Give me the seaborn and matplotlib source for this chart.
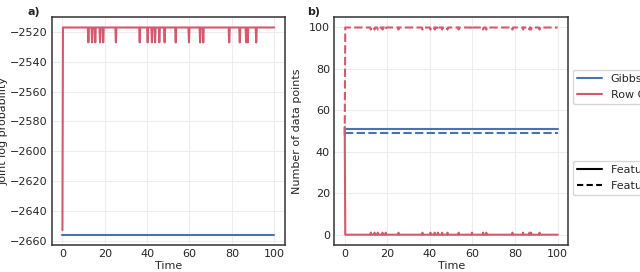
import numpy as np
import pandas as pd
import matplotlib
matplotlib.use("Agg")
import matplotlib.pyplot as plt
from matplotlib.lines import Line2D
import seaborn as sns

# =============================================================================
# DATA
# =============================================================================
time_grid = np.round(np.arange(0, 100.25, 0.25), 2)

# times where Row Gibbs briefly moves one point back
dip_times = [12.25, 14.0, 15.5, 17.75, 19.25, 25.25, 36.5, 40.25, 42.25, 43.75,
             45.75, 48.25, 53.5, 59.75, 65.0, 66.5, 78.75, 83.75, 86.75, 87.5, 91.5]

# panel a) joint log probability
gibbs_logp = -2656
row_logp_start = -2653
row_logp_level = -2517
row_logp_dip = -2527

# panel b) number of data points per feature
gibbs_f1 = 51
gibbs_f2 = 49
row_f1_start, row_f1_level, row_f1_dip = 52, 0, 1
row_f2_start, row_f2_level, row_f2_dip = 48, 100, 99

samplers = ["Gibbs", "Row Gibbs"]
features = ["Feature 1", "Feature 2"]
colores = {"Gibbs": "#4C72B0", "Row Gibbs": "#D35A6E"}


def serie_row(inicio, nivel, dip):
    vals = np.full(len(time_grid), float(nivel))
    vals[0] = inicio
    for t in dip_times:
        vals[np.argmin(np.abs(time_grid - t))] = dip
    return vals


df_a = pd.concat([
    pd.DataFrame({"Time": time_grid, "valor": float(gibbs_logp), "sampler": "Gibbs"}),
    pd.DataFrame({"Time": time_grid,
                  "valor": serie_row(row_logp_start, row_logp_level, row_logp_dip),
                  "sampler": "Row Gibbs"}),
])

df_b = pd.concat([
    pd.DataFrame({"Time": time_grid, "valor": float(gibbs_f1), "sampler": "Gibbs", "feature": "Feature 1"}),
    pd.DataFrame({"Time": time_grid, "valor": float(gibbs_f2), "sampler": "Gibbs", "feature": "Feature 2"}),
    pd.DataFrame({"Time": time_grid, "valor": serie_row(row_f1_start, row_f1_level, row_f1_dip),
                  "sampler": "Row Gibbs", "feature": "Feature 1"}),
    pd.DataFrame({"Time": time_grid, "valor": serie_row(row_f2_start, row_f2_level, row_f2_dip),
                  "sampler": "Row Gibbs", "feature": "Feature 2"}),
])

# =============================================================================
# PLOT
# =============================================================================
sns.set_theme(style="whitegrid", rc={
    "axes.edgecolor": ".2",
    "axes.linewidth": 1.1,
    "grid.color": ".93",
    "grid.linewidth": 0.8,
    "xtick.labelsize": 8,
    "ytick.labelsize": 8,
    "axes.labelsize": 8,
    "legend.fontsize": 8,
    "xtick.major.size": 0,
    "ytick.major.size": 0,
})
plt.rcParams["font.family"] = ["DejaVu Sans"]

fig = plt.figure(figsize=(6.4, 2.72), dpi=100)
ax_a = fig.add_axes([0.081, 0.099, 0.364, 0.838])
ax_b = fig.add_axes([0.522, 0.099, 0.366, 0.838])

sns.lineplot(data=df_a, x="Time", y="valor", hue="sampler", palette=colores,
             estimator=None, linewidth=1.5, legend=False, ax=ax_a)
ax_a.set_ylabel("Joint log probability")
ax_a.yaxis.set_label_coords(-0.186, 0.5)
ax_a.set_xlabel("Time", labelpad=1)
ax_a.set_xticks([0, 20, 40, 60, 80, 100])
ax_a.set_yticks(np.arange(-2660, -2519, 20))

sns.lineplot(data=df_b, x="Time", y="valor", hue="sampler", style="feature",
             palette=colores, dashes={"Feature 1": "", "Feature 2": (4, 1.6)},
             estimator=None, linewidth=1.5, legend=False, ax=ax_b)
ax_b.set_ylabel("Number of data points")
ax_b.yaxis.set_label_coords(-0.137, 0.5)
ax_b.set_xlabel("Time", labelpad=1)
ax_b.set_xticks([0, 20, 40, 60, 80, 100])
ax_b.set_yticks([0, 20, 40, 60, 80, 100])

for ax in (ax_a, ax_b):
    ax.tick_params(length=0, pad=3)

fig.text(0.043, 0.975, "a)", fontsize=8, weight="bold", va="top")
fig.text(0.48, 0.975, "b)", fontsize=8, weight="bold", va="top")

h_sampler = [Line2D([], [], color=colores[s], lw=1.5) for s in samplers]
leg1 = ax_b.legend(h_sampler, samplers, loc="upper left", bbox_to_anchor=(1.02, 0.77),
                   frameon=True, borderaxespad=0, handlelength=2.2)
ax_b.add_artist(leg1)
h_feat = [Line2D([], [], color="black", lw=1.5),
          Line2D([], [], color="black", lw=1.5, dashes=(3, 1.6))]
ax_b.legend(h_feat, features, loc="upper left", bbox_to_anchor=(1.02, 0.37),
            frameon=True, borderaxespad=0, handlelength=2.2)

plt.savefig("out.png", dpi=100)
plt.close(fig)
